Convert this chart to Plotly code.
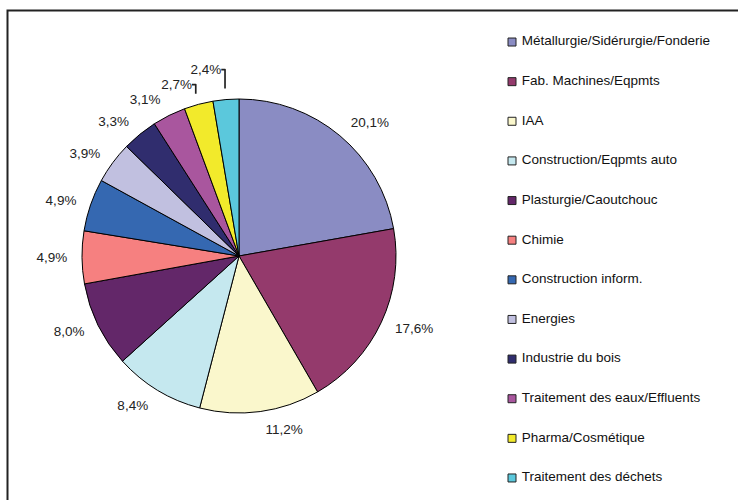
import plotly.graph_objects as go

categories = [
    "Métallurgie/Sidérurgie/Fonderie",
    "Fab. Machines/Eqpmts",
    "IAA",
    "Construction/Eqpmts auto",
    "Plasturgie/Caoutchouc",
    "Chimie",
    "Construction inform.",
    "Energies",
    "Industrie du bois",
    "Traitement des eaux/Effluents",
    "Pharma/Cosmétique",
    "Traitement des déchets",
]
values = [20.1, 17.6, 11.2, 8.4, 8.0, 4.9, 4.9, 3.9, 3.3, 3.1, 2.7, 2.4]
colors = [
    "#8A8CC3", "#943A6C", "#FAF7CC", "#C5E8EF", "#632769", "#F68080",
    "#3568B1", "#C1C0E0", "#302D6E", "#A9569E", "#F2EA2B", "#5BC8DC",
]

font_family = "Liberation Sans, Arial, sans-serif"

fig = go.Figure()

# visible pie (no text)
fig.add_trace(go.Pie(
    labels=categories,
    values=values,
    sort=False,
    direction="clockwise",
    rotation=0,
    marker=dict(colors=colors, line=dict(color="#000000", width=1)),
    textinfo="none",
    domain=dict(x=[82 / 738, 396 / 738], y=[87 / 500, 401 / 500]),
    showlegend=False,
    hoverinfo="skip",
))

# transparent, slightly larger pie carrying the outside labels (label distance)
fig.add_trace(go.Pie(
    labels=categories,
    values=values,
    sort=False,
    direction="clockwise",
    rotation=0,
    marker=dict(colors=["rgba(0,0,0,0)"] * len(values), line=dict(width=0)),
    texttemplate="%{value:.1f}%",
    textposition="outside",
    textfont=dict(family=font_family, size=13.5, color="#222222"),
    outsidetextfont=dict(family=font_family, size=13.5, color="#222222"),
    domain=dict(x=[71 / 738, 407 / 738], y=[76 / 500, 412 / 500]),
    showlegend=False,
    hoverinfo="skip",
))

# custom legend drawn as a scatter on a category axis
fig.add_trace(go.Scatter(
    x=[0] * len(categories),
    y=categories,
    mode="markers+text",
    marker=dict(symbol="square", size=8, color=colors,
                line=dict(color="#222222", width=1)),
    text=["\u00a0" + c for c in categories],
    textposition="middle right",
    textfont=dict(family=font_family, size=13.5, color="#111111"),
    cliponaxis=False,
    showlegend=False,
    hoverinfo="skip",
))

fig.update_layout(
    width=738,
    height=500,
    margin=dict(l=0, r=0, t=0, b=0),
    paper_bgcolor="white",
    plot_bgcolor="rgba(0,0,0,0)",
    separators=", ",
    font=dict(family=font_family, size=13.5, color="#222222"),
    xaxis=dict(domain=[512 / 738, 1.0], range=[0, 1], visible=False, fixedrange=True),
    yaxis=dict(domain=[2.2 / 500, 477.8 / 500], type="category",
               categoryorder="array", categoryarray=categories,
               range=[11.5, -0.5], visible=False, fixedrange=True),
    shapes=[dict(type="rect", xref="paper", yref="paper",
                 x0=7.5 / 738, x1=1.2, y0=-0.2, y1=(500 - 10.5) / 500,
                 line=dict(color="#222222", width=2), fillcolor="rgba(0,0,0,0)")],
)

fig.write_html("out.html", config=dict(staticPlot=True),
               post_script="document.body.style.margin='0';document.body.style.overflow='hidden';")
